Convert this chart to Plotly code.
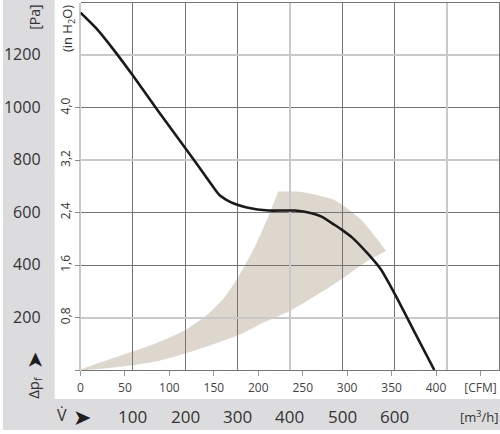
import plotly.graph_objects as go

# fan curve (CFM / Pa)
curve_cfm = [0, 19, 37.8, 58.3, 86.3, 118, 145.7, 151.3, 156.9, 163.6, 172.5, 187.1,
             211.4, 241.2, 260, 271.1, 286.1, 295.8, 304.8, 323.5, 338.4, 355.2,
             375.7, 398.1]
curve_pa = [1358, 1294, 1215, 1122, 989, 843, 713, 686, 663, 648, 633, 618,
            606, 606, 596, 583, 551, 529, 506, 441, 380, 279,
            145, 0]

# recommended operating area (closed outline, corners repeated to keep them sharp)
area_cfm = [0, 47.1, 84.4, 118, 144.2, 162.8, 177.8, 196.4, 211.4, 222.6, 222.6,
            248.7, 285.7, 316, 344, 344,
            322.7, 295.8, 271.1, 237.5, 203.9, 177.8, 151.6, 118, 84.4, 47.1, 0]
area_pa = [0, 57, 101, 152, 215, 279, 355, 469, 583, 678, 678,
           677, 646, 570, 452, 452,
           414, 350, 296, 228, 177, 133, 101, 63, 32, 13, 0]

cfm_ticks = [0, 50, 100, 150, 200, 250, 300, 350, 400, 450]
cfm_labels = ["0", "50", "100", "150", "200", "250", "300", "350", "400", "[CFM]"]
pa_ticks = [200, 400, 600, 800, 1000, 1200]
m3h_labels = [100, 200, 300, 400, 500, 600]
m3h_grid_dark = [100, 200, 300, 500, 600, 800]
m3h_grid_light = [0, 400, 700]
inh2o_grid_dark = [1.6, 2.4, 4.0, 5.6]
inh2o_grid_light = [0.8, 3.2, 4.8]
inh2o_ticks = [0, 0.8, 1.6, 2.4, 3.2, 4.0]
inh2o_labels = [" ", "0,8", "1,6", "2,4", "3,2", "4,0"]

M3H_MAX = 800
INH2O_MAX = 5.6
CFM_PER_M3H = 0.5886
PA_PER_INH2O = 249.09
X_MAX = M3H_MAX * CFM_PER_M3H
Y_MAX = INH2O_MAX * PA_PER_INH2O

W, H = 500, 434
XD = [78 / W, 499 / W]
YD = [1 - 370 / H, 1 - 3 / H]
DARK = "#747474"
LIGHT = "#c9c9c9"
TXT = "#333333"
GREY = "#dcdcde"


def px(x):
    return x / W


def py(y):
    return 1 - y / H


fig = go.Figure()

fig.add_trace(go.Scatter(x=area_cfm, y=area_pa, mode="lines", fill="toself",
                         fillcolor="#ddd7cd",
                         line=dict(width=0, shape="spline", smoothing=0.6),
                         hoverinfo="skip", showlegend=False))
fig.add_trace(go.Scatter(x=[None], y=[None], xaxis="x2", yaxis="y2", showlegend=False))
fig.add_trace(go.Scatter(x=[None], y=[None], xaxis="x3", yaxis="y3", showlegend=False))
fig.add_trace(go.Scatter(x=[None], y=[None], xaxis="x3", yaxis="y5", showlegend=False))
fig.add_trace(go.Scatter(x=curve_cfm, y=curve_pa, xaxis="x4", yaxis="y4",
                         mode="lines", line=dict(color="#1a1a1a", width=2.6,
                                                 shape="spline", smoothing=0.6),
                         hoverinfo="skip", showlegend=False))

no_grid = dict(showgrid=False, zeroline=False, fixedrange=True)

fig.update_layout(
    width=W, height=H,
    margin=dict(l=0, r=0, t=0, b=0),
    paper_bgcolor="white",
    plot_bgcolor="rgba(0,0,0,0)",
    font=dict(family="Open Sans", color=TXT),
    xaxis=dict(domain=XD, range=[0, X_MAX], anchor="y",
               tickvals=cfm_ticks, ticktext=cfm_labels,
               ticks="outside", ticklen=5, tickcolor="#999999", ticklabelstandoff=2,
               tickfont=dict(size=12, color="#444444"), showline=False, **no_grid),
    yaxis=dict(domain=YD, range=[0, Y_MAX], anchor="x",
               tickvals=pa_ticks, ticks="", ticklabelstandoff=39,
               tickfont=dict(size=16, color=TXT), showline=False, **no_grid),
    xaxis2=dict(domain=XD, range=[0, M3H_MAX], anchor="y2",
                tickvals=m3h_grid_dark, showticklabels=False, ticks="",
                showgrid=True, gridcolor=DARK, gridwidth=1,
                showline=True, mirror=True, linecolor=DARK, linewidth=1,
                zeroline=False, fixedrange=True),
    yaxis2=dict(domain=YD, range=[0, INH2O_MAX], anchor="x2", side="right",
                tickvals=inh2o_grid_dark, showticklabels=False, ticks="",
                showgrid=True, gridcolor=DARK, gridwidth=1,
                showline=True, linecolor=DARK, linewidth=1,
                zeroline=False, fixedrange=True),
    xaxis3=dict(domain=XD, range=[0, M3H_MAX], anchor="y3",
                tickvals=m3h_grid_light, showticklabels=False, ticks="",
                showgrid=True, gridcolor=LIGHT, gridwidth=2,
                zeroline=False, fixedrange=True),
    yaxis3=dict(domain=YD, range=[0, INH2O_MAX], anchor="x3",
                tickvals=inh2o_grid_light, showticklabels=False, ticks="",
                showgrid=True, gridcolor=LIGHT, gridwidth=2,
                showline=True, linecolor=LIGHT, linewidth=2,
                zeroline=False, fixedrange=True),
    yaxis5=dict(range=[0, INH2O_MAX], anchor="x3", overlaying="y3", side="left",
                tickvals=inh2o_ticks, ticktext=inh2o_labels, tickangle=-90,
                ticks="outside", ticklen=5, tickcolor="#8a8a8a",
                tickfont=dict(size=12, color=TXT), **no_grid),
    xaxis4=dict(domain=XD, range=[0, X_MAX], anchor="y4", visible=False,
                fixedrange=True),
    yaxis4=dict(domain=YD, range=[0, Y_MAX], anchor="x4", visible=False,
                fixedrange=True),
)

# grey frame panels (left and bottom)
fig.add_shape(type="rect", xref="paper", yref="paper", layer="below",
              x0=0, x1=px(52), y0=py(399), y1=1, fillcolor=GREY, line_width=0)
fig.add_shape(type="rect", xref="paper", yref="paper", layer="below",
              x0=0, x1=1, y0=py(430), y1=py(399), fillcolor=GREY, line_width=0)

notes = [
    ("[Pa]", 31, 17, 14, -90),
    ("(in H<sub>2</sub>O)", 65.5, 29, 13, -90),
    ("\u27a4", 31, 360, 21, -90),
    ("\u0394p<sub>f</sub>", 31, 387, 15, -90),
    ("V\u0307", 59, 415, 16, 0),
    ("\u27a4", 79, 416, 22, 0),
    ("[m<sup>3</sup>/h]", 479, 416, 13, 0),
]
for text, x, y, size, ang in notes:
    fig.add_annotation(text=text, xref="paper", yref="paper", x=px(x), y=py(y),
                       showarrow=False, textangle=ang, xanchor="center",
                       yanchor="middle", font=dict(size=size, color="#1e1e1e"
                                                   if "\u27a4" in text else TXT))

for v in m3h_labels:
    fig.add_annotation(text=str(v), xref="x2", yref="paper", x=v, y=py(416),
                       showarrow=False, xanchor="center", yanchor="middle",
                       font=dict(size=17, color=TXT))

fig.write_html("out.html", config={"displayModeBar": False},
               post_script="document.body.style.margin='0';")
